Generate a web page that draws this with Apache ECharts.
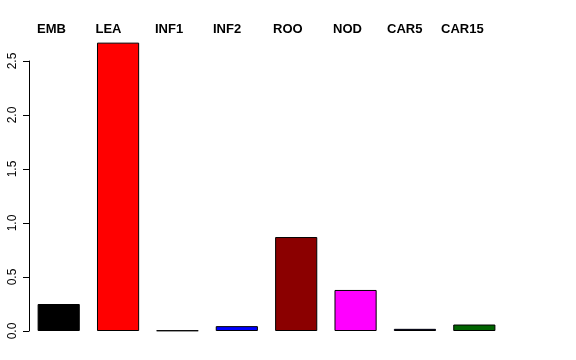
<!DOCTYPE html>
<html><head><meta charset="utf-8">
<script src="https://cdn.jsdelivr.net/npm/echarts@6/dist/echarts.min.js"></script>
<style>html,body{margin:0;padding:0;background:#fff}#c{width:576px;height:360px}</style>
</head><body><div id="c"></div>
<script>
const categories = ['EMB','LEA','INF1','INF2','ROO','NOD','CAR5','CAR15'];
const values = [0.25, 2.67, 0.005, 0.045, 0.87, 0.38, 0.02, 0.06];
const colors = ['#000000','#FF0000','#003300','#0000FF','#8B0000','#FF00FF','#000080','#006400'];
const yTicks = [0, 0.5, 1.0, 1.5, 2.0, 2.5];
const yTickLabels = ['0.0','0.5','1.0','1.5','2.0','2.5'];
// left edges of the header labels (layout)
const headerLeft = [37, 95.5, 155, 213, 273, 333, 387, 441];

const font = 'Liberation Sans, Arial, Helvetica, sans-serif';
const chart = echarts.init(document.getElementById('c'), null, {renderer:'canvas'});
chart.setOption({
  animation:false,
  backgroundColor:'#fff',
  grid:[
    {left:29, right:72, top:28.6, bottom:29},
    {left:29, right:72, top:61, bottom:29}
  ],
  xAxis:[
    {gridIndex:0, type:'category', data:categories, show:false},
    {gridIndex:1, type:'category', data:categories, show:false}
  ],
  yAxis:[
    {gridIndex:0, type:'value', min:0, max:2.8, show:false, splitLine:{show:false}},
    {gridIndex:1, type:'value', min:0, max:2.5, interval:0.5,
     axisLine:{show:true, lineStyle:{color:'#000', width:1}},
     axisTick:{show:true, length:6, lineStyle:{color:'#000'}},
     splitLine:{show:false},
     axisLabel:{show:true, rotate:90, fontFamily:font, fontSize:12, color:'#000', margin:10,
       formatter:function(v){const i=yTicks.indexOf(v);return i>=0?yTickLabels[i]:'';}}}
  ],
  graphic: categories.map((c,i)=>({
    type:'text', left:headerLeft[i], top:23,
    style:{text:c, font:'bold 13px ' + font, fill:'#000'}
  })),
  series:[{
    type:'bar', xAxisIndex:0, yAxisIndex:0,
    data: values.map((v,i)=>({value:v, itemStyle:{color:colors[i]}})),
    barCategoryGap:'29%',
    itemStyle:{borderColor:'#000', borderWidth:1}
  }]
});
</script></body></html>
